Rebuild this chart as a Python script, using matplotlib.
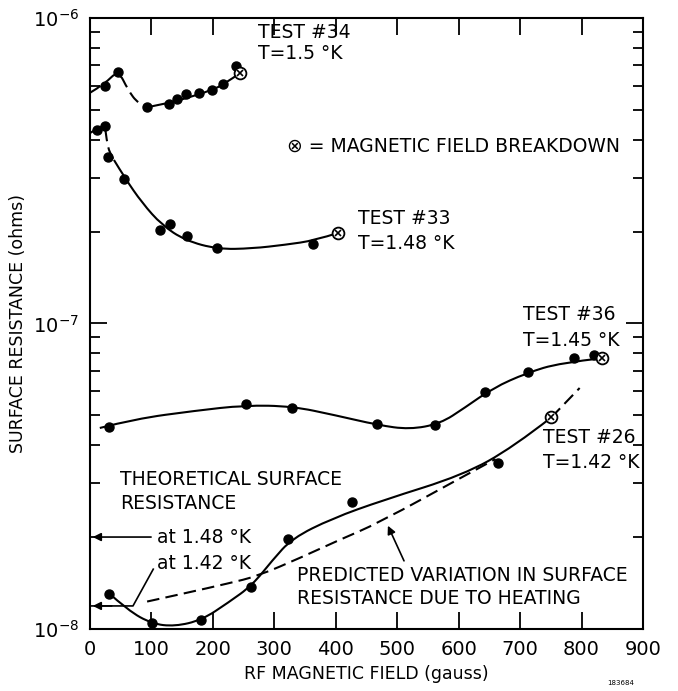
import numpy as np
import matplotlib
matplotlib.use("Agg")
from matplotlib import pyplot as plt
from matplotlib.path import Path
from matplotlib.patches import PathPatch
from matplotlib.ticker import LogLocator, NullFormatter, FixedLocator

plt.rcParams['font.family'] = ['DejaVu Sans']

# measured points (field in gauss, resistance in ohms)
t34_x = [24, 46, 93, 128, 142, 156, 177, 198, 216, 238]
t34_y = [6.0e-7, 6.65e-7, 5.1e-7, 5.23e-7, 5.43e-7, 5.64e-7, 5.69e-7, 5.8e-7, 6.08e-7, 6.97e-7]
t34_bd = (244, 6.6e-7)

t33_x = [11, 24, 29, 56, 114, 130, 158, 207, 363]
t33_y = [4.3e-7, 4.43e-7, 3.5e-7, 2.97e-7, 2.02e-7, 2.12e-7, 1.93e-7, 1.77e-7, 1.82e-7]
t33_bd = (404, 1.98e-7)

t36_x = [31, 254, 329, 467, 562, 643, 713, 788, 821]
t36_y = [4.58e-8, 5.45e-8, 5.28e-8, 4.69e-8, 4.65e-8, 5.97e-8, 6.94e-8, 7.7e-8, 7.88e-8]
t36_bd = (834, 7.7e-8)

t26_x = [31, 101, 181, 262, 323, 427, 664]
t26_y = [1.30e-8, 1.05e-8, 1.07e-8, 1.37e-8, 1.97e-8, 2.6e-8, 3.49e-8]
t26_bd = (751, 4.93e-8)

# hand-drawn curves (control points)
c34_dash_x = [0, 24, 46, 62, 78, 93]
c34_dash_y = [5.69e-7, 6.08e-7, 6.75e-7, 5.81e-7, 5.25e-7, 5.1e-7]
c34_x = [93, 128, 155, 198, 220, 244]
c34_y = [5.1e-7, 5.27e-7, 5.45e-7, 5.8e-7, 6.1e-7, 6.6e-7]

c33_dash_x = [0, 11, 24, 27, 32, 39]
c33_dash_y = [4.2e-7, 4.33e-7, 4.5e-7, 4.0e-7, 3.6e-7, 3.43e-7]
c33_x = [39, 57, 85, 117, 155, 208, 264, 318, 366, 404]
c33_y = [3.43e-7, 2.99e-7, 2.48e-7, 2.10e-7, 1.87e-7, 1.75e-7, 1.76e-7, 1.81e-7, 1.87e-7, 1.98e-7]

c36_x = [16, 73, 171, 252, 329, 399, 469, 520, 570, 610, 656, 711, 765, 834]
c36_y = [4.55e-8, 4.87e-8, 5.18e-8, 5.4e-8, 5.36e-8, 5.01e-8, 4.65e-8, 4.5e-8, 4.7e-8, 5.3e-8, 6.15e-8, 6.89e-8, 7.43e-8, 7.7e-8]

c26_x = [29, 62, 101, 138, 182, 225, 264, 297, 329, 394, 477, 607, 689, 751]
c26_y = [1.32e-8, 1.15e-8, 1.04e-8, 1.02e-8, 1.07e-8, 1.22e-8, 1.39e-8, 1.68e-8, 1.98e-8, 2.3e-8, 2.64e-8, 3.19e-8, 3.94e-8, 4.93e-8]
c26_dash_x = [751, 797]
c26_dash_y = [4.93e-8, 6.15e-8]

heat_x = [93, 155, 225, 273, 345, 404, 469, 614, 660]
heat_y = [1.23e-8, 1.31e-8, 1.41e-8, 1.49e-8, 1.72e-8, 1.95e-8, 2.22e-8, 3.21e-8, 3.6e-8]

x_ticks = [0, 100, 200, 300, 400, 500, 600, 700, 800, 900]


def smooth_line(ax, xs, ys, **kw):
    # quadratic spline through midpoints, control points are the read-off points
    pts = list(zip(xs, ys))
    if len(pts) < 3:
        verts, codes = pts, [Path.MOVETO] + [Path.LINETO] * (len(pts) - 1)
    else:
        verts, codes = [pts[0]], [Path.MOVETO]
        for i in range(1, len(pts) - 1):
            x1, y1 = pts[i]
            x2, y2 = pts[i + 1]
            end = pts[i + 1] if i == len(pts) - 2 else ((x1 + x2) / 2, np.sqrt(y1 * y2))
            verts += [pts[i], end]
            codes += [Path.CURVE3, Path.CURVE3]
    ax.add_patch(PathPatch(Path(verts, codes), fill=False, **kw))


fig = plt.figure(figsize=(6.78, 6.91), dpi=100)
ax = fig.add_axes([0.1327, 0.0897, 0.8156, 0.8843])
ax.set_yscale('log')
ax.set_xlim(0, 900)
ax.set_ylim(1e-8, 1e-6)

lw = 1.5
dash = (0, (6, 3))

smooth_line(ax, c34_dash_x, c34_dash_y, color='k', lw=lw, linestyle=dash)
smooth_line(ax, c34_x, c34_y, color='k', lw=lw)
smooth_line(ax, c33_dash_x, c33_dash_y, color='k', lw=lw, linestyle=dash)
smooth_line(ax, c33_x, c33_y, color='k', lw=lw)
smooth_line(ax, c36_x, c36_y, color='k', lw=lw)
smooth_line(ax, c26_x, c26_y, color='k', lw=lw)
smooth_line(ax, c26_dash_x, c26_dash_y, color='k', lw=lw, linestyle=dash)
smooth_line(ax, heat_x, heat_y, color='k', lw=lw, linestyle=dash)

for xs, ys in [(t34_x, t34_y), (t33_x, t33_y), (t36_x, t36_y), (t26_x, t26_y)]:
    ax.plot(xs, ys, 'o', color='k', markersize=6.5)

for bx, by in [t34_bd, t33_bd, t36_bd, t26_bd]:
    ax.plot(bx, by, 'o', mfc='white', mec='k', mew=1.3, markersize=8.5)
    ax.plot(bx, by, 'x', color='k', mew=1.2, markersize=5)

ax.xaxis.set_major_locator(FixedLocator(x_ticks))
ax.yaxis.set_major_locator(LogLocator(base=10))
ax.yaxis.set_minor_locator(LogLocator(base=10, subs=np.arange(2, 10)))
ax.yaxis.set_minor_formatter(NullFormatter())
ax.tick_params(which='major', direction='in', length=12, width=1.3,
               top=True, right=True, labelsize=14, pad=8)
ax.tick_params(which='minor', direction='in', length=7, width=1.3,
               left=True, right=True)
for s in ax.spines.values():
    s.set_linewidth(1.5)

ax.set_xlabel('RF MAGNETIC FIELD (gauss)', fontsize=12.5, labelpad=4)
ax.set_ylabel('SURFACE RESISTANCE (ohms)', fontsize=12.5, labelpad=4)

fs = 13.5
ax.text(273, 8.93e-7, 'TEST #34', fontsize=fs, va='center')
ax.text(273, 7.63e-7, 'T=1.5 °K', fontsize=fs, va='center')
ax.text(321, 3.79e-7, '⊗ = MAGNETIC FIELD BREAKDOWN', fontsize=fs, va='center')
ax.text(436, 2.21e-7, 'TEST #33', fontsize=fs, va='center')
ax.text(436, 1.83e-7, 'T=1.48 °K', fontsize=fs, va='center')
ax.text(705, 1.07e-7, 'TEST #36', fontsize=fs, va='center')
ax.text(705, 8.83e-8, 'T=1.45 °K', fontsize=fs, va='center')
ax.text(737, 4.25e-8, 'TEST #26', fontsize=fs, va='center')
ax.text(737, 3.52e-8, 'T=1.42 °K', fontsize=fs, va='center')
ax.text(49, 3.08e-8, 'THEORETICAL SURFACE', fontsize=fs, va='center')
ax.text(49, 2.58e-8, 'RESISTANCE', fontsize=fs, va='center')
ax.text(109, 2.0e-8, 'at 1.48 °K', fontsize=fs, va='center')
ax.text(109, 1.64e-8, 'at 1.42 °K', fontsize=fs, va='center')
ax.text(337, 1.50e-8, 'PREDICTED VARIATION IN SURFACE', fontsize=fs, va='center')
ax.text(337, 1.26e-8, 'RESISTANCE DUE TO HEATING', fontsize=fs, va='center')

arrow = dict(arrowstyle='-|>', color='k', lw=1.2, mutation_scale=12)
ax.annotate('', xy=(0, 2.0e-8), xytext=(104, 2.0e-8), arrowprops=arrow)
ax.plot([103, 70, 0], [1.57e-8, 1.19e-8, 1.19e-8], color='k', lw=1.2)
ax.annotate('', xy=(0, 1.19e-8), xytext=(40, 1.19e-8), arrowprops=arrow)
ax.annotate('', xy=(483, 2.22e-8), xytext=(513, 1.64e-8), arrowprops=arrow)

fig.text(0.895, 0.008, '183684', fontsize=5)

fig.savefig('out.png', dpi=100)
